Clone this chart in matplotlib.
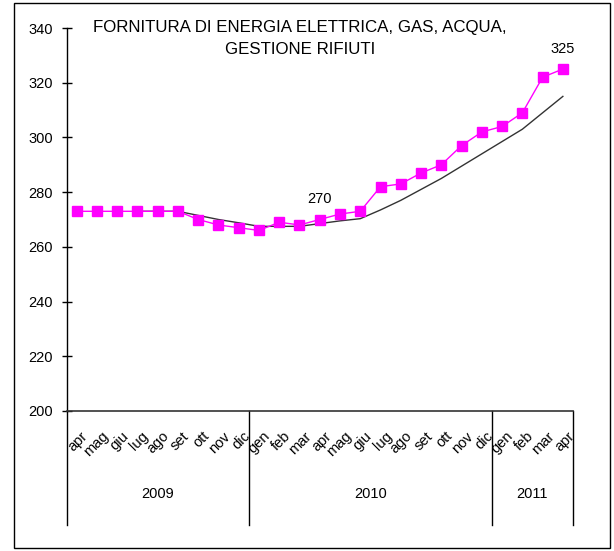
import numpy as np
import matplotlib
matplotlib.use("Agg")
import matplotlib.pyplot as plt
from matplotlib.patches import Rectangle

plt.rcParams['font.family'] = ['Liberation Sans', 'DejaVu Sans']

# months apr 2009 .. apr 2011
months = ['apr', 'mag', 'giu', 'lug', 'ago', 'set', 'ott', 'nov', 'dic',
          'gen', 'feb', 'mar', 'apr', 'mag', 'giu', 'lug', 'ago', 'set', 'ott', 'nov', 'dic',
          'gen', 'feb', 'mar', 'apr']
years = ['2009', '2010', '2011']
year_months = [9, 12, 4]

index_values = [273, 273, 273, 273, 273, 273, 270, 268, 267,
                266, 269, 268, 270, 272, 273, 282, 283, 287, 290, 297, 302,
                304, 309, 322, 325]
trend_values = [np.nan, np.nan, np.nan, 273, 273, 273, 271.5, 270, 268.8,
                267.5, 267.5, 267.5, 268.5, 269.5, 270.3, 273.5, 277, 281, 285, 289.5, 294,
                298.5, 303, 309, 315]
labelled = [12, 24]

yticks = list(range(200, 341, 20))

fig = plt.figure(figsize=(6.14, 5.51), dpi=100)
ax = fig.add_axes([66.5 / 614, 1 - 411 / 551, (573 - 66.5) / 614, (411 - 28) / 551])

x = np.arange(len(months))
ax.plot(x, trend_values, color='#333333', lw=1.0, zorder=2)
ax.plot(x, index_values, color='#FF00FF', lw=1.0, marker='s', markersize=7.2,
        markeredgecolor='#FF00FF', zorder=3)

for i in labelled:
    ax.annotate(str(index_values[i]), (x[i], index_values[i]), xytext=(0, 14.5),
                textcoords='offset points', ha='center', va='center', fontsize=10.5)

ax.set_xlim(-0.5, len(months) - 0.5)
ax.set_ylim(200, 340)
ax.set_yticks(yticks)
ax.tick_params(axis='y', direction='inout', length=7.2, width=1, labelsize=10.5, pad=6)
ax.tick_params(axis='x', length=0)
ax.set_xticks(x)
ax.set_xticklabels([])
for s in ['top', 'right']:
    ax.spines[s].set_visible(False)
ax.spines['left'].set_linewidth(1)
ax.spines['bottom'].set_color('#333333')
ax.spines['bottom'].set_linewidth(1.2)

trans = ax.get_xaxis_transform()
for i, m in enumerate(months):
    ax.annotate(m, (i, 0), xycoords=trans, xytext=(3, -13), textcoords='offset points',
                rotation=45, rotation_mode='anchor', ha='right', va='top', fontsize=10.5)

# year groups
edges = np.concatenate([[0], np.cumsum(year_months)]) - 0.5
bottom = (411 - 525) / 383
for e in edges:
    ax.plot([e, e], [0, bottom], transform=trans, color='black', lw=1, clip_on=False)
for k, yr in enumerate(years):
    ax.text((edges[k] + edges[k + 1]) / 2, (411 - 494) / 383, yr, transform=trans,
            ha='center', va='center', fontsize=10.5)

fig.text(300 / 614, 1 - 38.5 / 551, 'FORNITURA DI ENERGIA ELETTRICA, GAS, ACQUA,\nGESTIONE RIFIUTI',
         ha='center', va='center', fontsize=12.2, linespacing=1.6)

fig.patches.append(Rectangle((14 / 614, 3 / 551), 596 / 614, 545 / 551, transform=fig.transFigure,
                             fill=False, edgecolor='black', lw=1))

fig.savefig('out.png', dpi=100)
